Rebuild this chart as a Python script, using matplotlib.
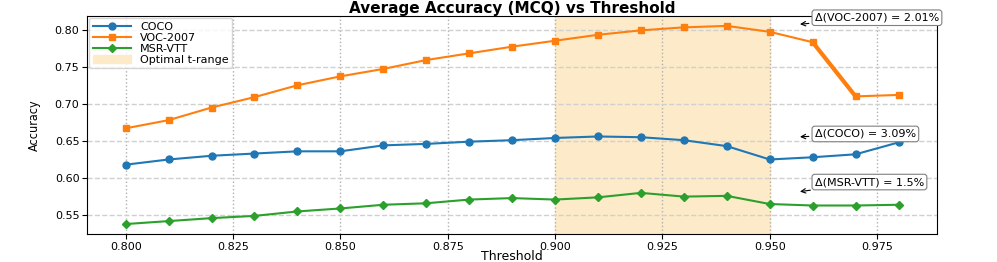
import numpy as np
import matplotlib
matplotlib.use("Agg")
import matplotlib.pyplot as plt

# ── Data ─────────────────────────────────────────
thresholds = [0.80, 0.81, 0.82, 0.83, 0.84, 0.85, 0.86, 0.87, 0.88, 0.89,
              0.90, 0.91, 0.92, 0.93, 0.94, 0.95, 0.96, 0.97, 0.98]
coco = [0.618, 0.625, 0.630, 0.633, 0.636, 0.636, 0.644, 0.646, 0.649, 0.651,
        0.654, 0.656, 0.655, 0.651, 0.643, 0.625, 0.628, 0.632, 0.648]
voc = [0.667, 0.678, 0.695, 0.709, 0.725, 0.737, 0.747, 0.759, 0.768, 0.777,
       0.785, 0.793, 0.799, 0.803, 0.805, 0.797, 0.783, 0.710, 0.712]
msr = [0.538, 0.542, 0.546, 0.549, 0.555, 0.559, 0.564, 0.566, 0.571, 0.573,
       0.571, 0.574, 0.580, 0.575, 0.576, 0.565, 0.563, 0.563, 0.564]

opt_range = (0.90, 0.95)
drop_idx = 16  # VOC drop segment, drawn thicker

notes = [
    ("Δ(VOC-2007) = 2.01%", (0.9564, 0.807), (0.9605, 0.816)),
    ("Δ(COCO) = 3.09%", (0.9564, 0.6554), (0.9605, 0.6594)),
    ("Δ(MSR-VTT) = 1.5%", (0.9564, 0.5812), (0.9605, 0.5946)),
]

# ── Plot ─────────────────────────────────────────
fig = plt.figure(figsize=(9.97, 2.62), dpi=100)
ax = fig.add_axes([0.0873, 0.107, 0.8527, 0.832])

span = ax.axvspan(opt_range[0], opt_range[1], color="#FDEAC8", zorder=0,
                  label="Optimal t-range")

ax.plot(thresholds, coco, marker="o", ms=5, lw=1.5, color="#1f77b4", label="COCO")
ax.plot(thresholds, voc, marker="s", ms=5, lw=1.5, color="#ff7f0e", label="VOC-2007")
ax.plot(thresholds[drop_idx:drop_idx + 2], voc[drop_idx:drop_idx + 2],
        lw=3, color="#ff7f0e")
ax.plot(thresholds, msr, marker="D", ms=4.5, lw=1.5, color="#2ca02c", label="MSR-VTT")

for txt, xy, xytext in notes:
    ax.annotate(txt, xy=xy, xytext=xytext, xycoords="data", textcoords="data",
                ha="left", va="center", fontsize=8, annotation_clip=False,
                arrowprops=dict(arrowstyle="->", color="black", lw=0.8),
                bbox=dict(boxstyle="round,pad=0.25", fc="white", ec="gray", lw=0.8))

ax.xaxis.grid(True, linestyle=":", color="#b0b0b0", lw=1)
ax.yaxis.grid(True, linestyle="--", color="#d0d0d0", lw=1)
ax.set_axisbelow(True)

ax.set_xticks([0.800, 0.825, 0.850, 0.875, 0.900, 0.925, 0.950, 0.975])
ax.set_yticks([0.55, 0.60, 0.65, 0.70, 0.75, 0.80])
ax.xaxis.set_major_formatter(matplotlib.ticker.FormatStrFormatter("%.3f"))
ax.yaxis.set_major_formatter(matplotlib.ticker.FormatStrFormatter("%.2f"))
ax.tick_params(labelsize=8, pad=2)

ax.set_title("Average Accuracy (MCQ) vs Threshold", fontsize=11,
             fontweight="heavy", pad=1.5)
ax.set_xlabel("Threshold", fontsize=9, labelpad=-1)
ax.set_ylabel("Accuracy", fontsize=9, fontstretch="condensed", labelpad=10)

handles, labels = ax.get_legend_handles_labels()
order = [1, 2, 3, 0]
ax.legend([handles[i] for i in order], [labels[i] for i in order],
          loc="upper left", fontsize=8, borderpad=0.3, labelspacing=0.1,
          handlelength=3.5, borderaxespad=0.2)

fig.savefig("out.png", dpi=100)
